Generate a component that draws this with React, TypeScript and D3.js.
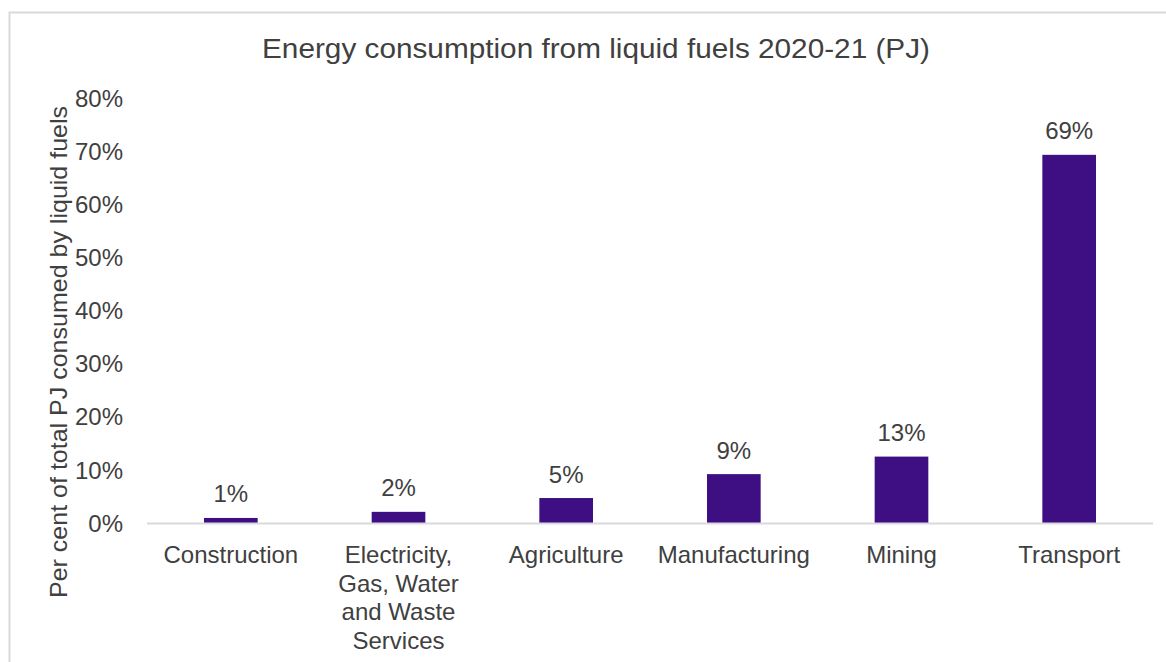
import React from "react";
import * as d3 from "d3";

const categories = ["Construction", "Electricity, Gas, Water and Waste Services", "Agriculture", "Manufacturing", "Mining", "Transport"];
const categoryLines = [["Construction"], ["Electricity,", "Gas, Water", "and Waste", "Services"], ["Agriculture"], ["Manufacturing"], ["Mining"], ["Transport"]];
const values = [0.95, 2.1, 4.7, 9.2, 12.5, 69.3];
const valueLabels = ["1%", "2%", "5%", "9%", "13%", "69%"];
const yTicks = [0, 10, 20, 30, 40, 50, 60, 70, 80];

const W = 1166;
const H = 662;
const FONT = "'Liberation Sans', Arial, sans-serif";
const TEXT = "#404040";
const BAR = "#3d0f82";

export default function App() {
  const x = d3.scaleBand<string>().domain(categories).range([147, 1153]).paddingInner(0.68).paddingOuter(0.34);
  const y = d3.scaleLinear().domain([0, 80]).range([523, 98]);

  return (
    <svg width={W} height={H} style={{ position: "absolute", left: 0, top: 0, background: "#fff" }} fontFamily={FONT}>
      <rect x={0} y={0} width={W} height={H} fill="#fff" />
      <rect x={9.5} y={12.5} width={W + 20} height={H + 20} fill="none" stroke="#dadadd" strokeWidth={2} />
      <text x={596} y={58} textAnchor="middle" fontSize={27} fill={TEXT} textLength={668} lengthAdjust="spacingAndGlyphs">
        Energy consumption from liquid fuels 2020-21 (PJ)
      </text>
      <text transform={`translate(67,${352}) rotate(-90)`} textAnchor="middle" fontSize={24} fill={TEXT} textLength={492} lengthAdjust="spacingAndGlyphs">
        Per cent of total PJ consumed by liquid fuels
      </text>
      {yTicks.map((t) => (
        <text key={t} x={123} y={y(t)} dy="0.36em" textAnchor="end" fontSize={24} fill={TEXT}>
          {t}%
        </text>
      ))}
      {categories.map((c, i) => {
        const bx = x(c)!;
        const bw = x.bandwidth();
        return (
          <g key={c}>
            <rect x={bx} y={y(values[i])} width={bw} height={y(0) - y(values[i])} fill={BAR} />
            <text x={bx + bw / 2} y={y(values[i]) - 15.5} textAnchor="middle" fontSize={24} fill={TEXT}>
              {valueLabels[i]}
            </text>
            {categoryLines[i].map((ln, j) => (
              <text key={j} x={bx + bw / 2} y={563 + j * 28.5} textAnchor="middle" fontSize={24} fill={TEXT}>
                {ln}
              </text>
            ))}
          </g>
        );
      })}
      <line x1={147} x2={1153} y1={523.5} y2={523.5} stroke="#d9d9de" strokeWidth={2} />
    </svg>
  );
}
